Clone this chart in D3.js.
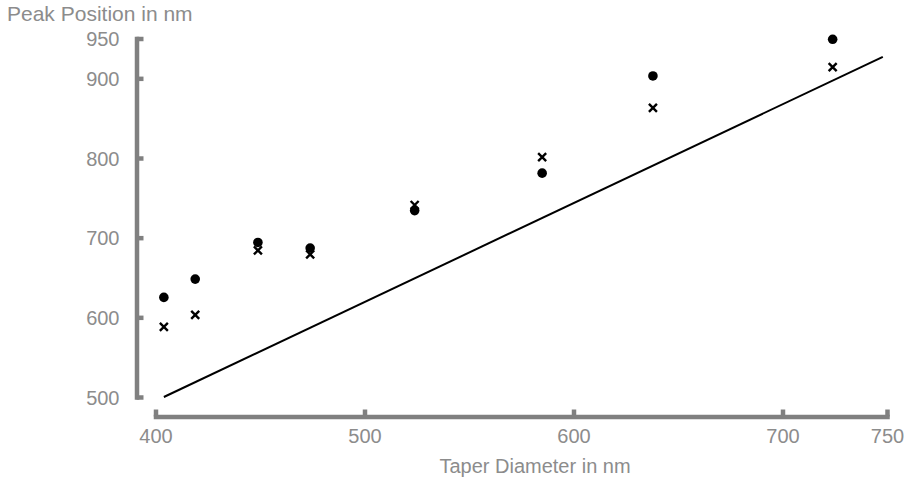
<!DOCTYPE html>
<html>
<head>
<meta charset="utf-8">
<script src="https://cdn.jsdelivr.net/npm/d3@7"></script>
<style>
  html, body { margin: 0; padding: 0; background: #fff; }
  svg { display: block; }
  .axis text { font-family: "Liberation Sans", Arial, Helvetica, sans-serif; font-size: 20px; fill: #8c8c8c; }
  .axis path, .axis line { stroke: #808080; stroke-width: 4.5; }
  .title { font-family: "Liberation Sans", Arial, Helvetica, sans-serif; font-size: 20px; fill: #8c8c8c; }
</style>
</head>
<body>
<svg id="chart" width="908" height="480"></svg>
<script>
// Taper diameter (nm) for each measured taper
const diameters = [404, 419, 449, 474, 524, 585, 638, 724];
// Peak positions (nm), first measurement set (filled circles)
const peaksDots = [625, 648, 694, 687, 734, 781, 903, 949];
// Peak positions (nm), second measurement set (crosses)
const peaksCrosses = [588, 603, 684, 679, 741, 801, 863, 914];
// Reference line end points
const lineX = [404, 748];
const lineY = [500, 927];
// Axis ticks
const xTicks = [400, 500, 600, 700, 750];
const yTicks = [500, 600, 700, 800, 900, 950];

const svg = d3.select("#chart");

const x = d3.scaleLinear().domain([400, 750]).range([155.5, 887]);
const y = d3.scaleLinear().domain([500, 950]).range([397, 38.5]);

// Y axis, drawn detached to the left of the plot
const yAxis = svg.append("g")
  .attr("class", "axis")
  .attr("transform", "translate(136.5,0)")
  .call(d3.axisLeft(y).tickValues(yTicks).tickFormat(d3.format("d")).tickSize(-7).tickSizeOuter(0).tickPadding(17));
yAxis.select(".domain").attr("stroke-linecap", "square");
yAxis.selectAll(".tick text").attr("dy", "0.36em");

// X axis, drawn detached below the plot
const xAxis = svg.append("g")
  .attr("class", "axis")
  .attr("transform", "translate(0,416.5)")
  .call(d3.axisBottom(x).tickValues(xTicks).tickFormat(d3.format("d")).tickSize(-7).tickSizeOuter(0).tickPadding(12));
xAxis.select(".domain").attr("stroke-linecap", "square");

// Axis titles
svg.append("text").attr("class", "title")
  .attr("x", 7).attr("y", 21).style("font-size", "21px")
  .text("Peak Position in nm");
svg.append("text").attr("class", "title")
  .attr("x", 535).attr("y", 473).attr("text-anchor", "middle")
  .text("Taper Diameter in nm");

// Reference line
svg.append("path")
  .datum(lineX.map((d, i) => [d, lineY[i]]))
  .attr("fill", "none")
  .attr("stroke", "#000")
  .attr("stroke-width", 2)
  .attr("d", d3.line().x(d => x(d[0])).y(d => y(d[1])));

// "x" shaped symbol type
const timesSymbol = {
  draw(context, size) {
    const r = Math.sqrt(size) / 2;
    context.moveTo(-r, -r); context.lineTo(r, r);
    context.moveTo(r, -r); context.lineTo(-r, r);
  }
};

// Crosses
svg.append("g").selectAll("path")
  .data(diameters.map((d, i) => [d, peaksCrosses[i]]))
  .join("path")
  .attr("transform", d => `translate(${x(d[0])},${y(d[1])})`)
  .attr("d", d3.symbol().type(timesSymbol).size(64))
  .attr("fill", "none")
  .attr("stroke", "#000")
  .attr("stroke-width", 2.4);

// Filled circles
svg.append("g").selectAll("circle")
  .data(diameters.map((d, i) => [d, peaksDots[i]]))
  .join("circle")
  .attr("cx", d => x(d[0]))
  .attr("cy", d => y(d[1]))
  .attr("r", 4.8)
  .attr("fill", "#000");
</script>
</body>
</html>
